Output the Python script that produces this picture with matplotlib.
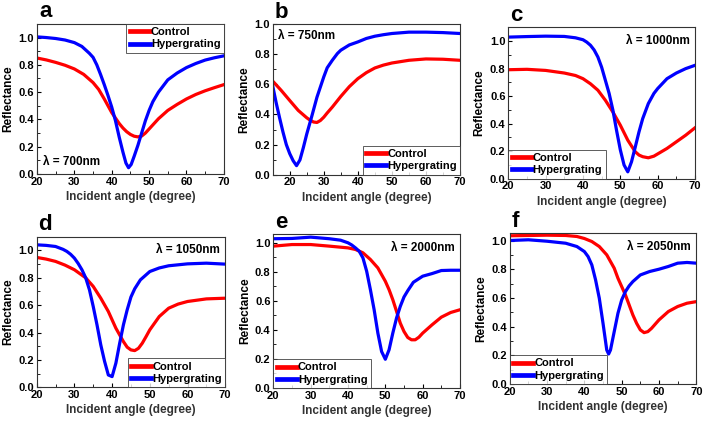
import matplotlib
matplotlib.use("Agg")
import matplotlib.pyplot as plt
from matplotlib.ticker import MultipleLocator

plt.rcParams["font.family"] = ["Liberation Sans", "DejaVu Sans"]
plt.rcParams["font.weight"] = "bold"

RED = "#FF0000"
BLUE = "#0000FF"

# ── Data ───────────────────────────────────────────────────────────────────
# a  λ = 700nm
a_ctrl_x = [20, 22.5, 25, 27.5, 30, 32.5, 35, 36.5, 38, 39, 40, 41, 42, 43, 44, 45,
            46, 47, 48, 49, 50, 52.5, 55, 57.5, 60, 62.5, 65, 67.5, 70]
a_ctrl_y = [0.85, 0.836, 0.818, 0.797, 0.77, 0.73, 0.67, 0.62, 0.55, 0.50, 0.45,
            0.41, 0.37, 0.337, 0.31, 0.29, 0.277, 0.272, 0.278, 0.30, 0.33, 0.405,
            0.466, 0.51, 0.55, 0.583, 0.61, 0.633, 0.655]
a_hyp_x = [20, 22.5, 25, 27.5, 30, 32, 34, 35, 36, 37, 38, 39, 40, 41, 42, 43, 43.8,
           44.5, 45.2, 46, 47, 48, 49, 50, 51, 52.5, 55, 57.5, 60, 62.5, 65, 67.5, 70]
a_hyp_y = [1.005, 1.0, 0.993, 0.982, 0.963, 0.935, 0.885, 0.855, 0.80, 0.73, 0.655,
           0.575, 0.49, 0.39, 0.27, 0.16, 0.08, 0.046, 0.07, 0.13, 0.21, 0.30, 0.39,
           0.466, 0.53, 0.60, 0.69, 0.74, 0.78, 0.81, 0.835, 0.852, 0.866]

# b  λ = 750nm
b_ctrl_x = [15, 17.5, 20, 22.5, 25, 26, 27, 28, 29, 30, 31, 32.5, 35, 37.5, 40, 42.5,
            45, 47.5, 50, 55, 60, 65, 70]
b_ctrl_y = [0.622, 0.56, 0.493, 0.427, 0.378, 0.362, 0.35, 0.347, 0.36, 0.382, 0.41,
            0.449, 0.52, 0.585, 0.638, 0.678, 0.709, 0.728, 0.742, 0.76, 0.769,
            0.767, 0.76]
b_hyp_x = [15, 16, 17, 18, 19, 20, 21, 22, 23, 24, 25, 26.5, 28, 30, 31, 32.5, 34,
           35, 37.5, 40, 42.5, 45, 47.5, 50, 55, 60, 65, 70]
b_hyp_y = [0.59, 0.48, 0.38, 0.285, 0.20, 0.14, 0.093, 0.06, 0.098, 0.18, 0.27, 0.39,
           0.515, 0.65, 0.71, 0.76, 0.805, 0.827, 0.862, 0.882, 0.905, 0.92, 0.93,
           0.938, 0.947, 0.947, 0.944, 0.938]

# c  λ = 1000nm
c_ctrl_x = [20, 25, 30, 35, 38, 40, 42, 44, 46, 48, 50, 52, 54, 55, 56, 57.5, 59, 60,
            62.5, 65, 67.5, 70]
c_ctrl_y = [0.792, 0.795, 0.787, 0.768, 0.75, 0.727, 0.69, 0.643, 0.57, 0.485,
            0.389, 0.28, 0.196, 0.172, 0.16, 0.152, 0.164, 0.18, 0.22, 0.268,
            0.316, 0.37]
c_hyp_x = [20, 25, 30, 35, 38, 40, 41, 42, 43, 44, 45, 46, 47, 48, 49, 50, 51, 52,
           53, 54, 55, 56, 57.5, 59, 60, 62.5, 65, 67.5, 70]
c_hyp_y = [1.029, 1.033, 1.036, 1.034, 1.024, 1.01, 0.993, 0.97, 0.935, 0.884, 0.81,
           0.715, 0.62, 0.50, 0.35, 0.21, 0.10, 0.05, 0.123, 0.23, 0.34, 0.437,
           0.546, 0.62, 0.655, 0.727, 0.768, 0.80, 0.824]

# d  λ = 1050nm
d_ctrl_x = [20, 22.5, 25, 27.5, 30, 33, 35, 37, 39, 41, 42, 43, 44, 45, 46, 47, 48,
            49, 50, 52.5, 55, 57.5, 60, 65, 70]
d_ctrl_y = [0.949, 0.937, 0.92, 0.893, 0.859, 0.80, 0.737, 0.651, 0.554, 0.432,
            0.383, 0.334, 0.293, 0.273, 0.268, 0.285, 0.322, 0.37, 0.42, 0.517,
            0.578, 0.608, 0.627, 0.646, 0.651]
d_hyp_x = [20, 22.5, 25, 27, 28, 29, 30, 31, 32, 33, 34, 35, 36, 37, 38, 39, 40, 41,
           42, 43, 44, 45, 46, 47.5, 50, 52.5, 55, 60, 65, 70]
d_hyp_y = [1.041, 1.037, 1.029, 1.008, 0.993, 0.972, 0.944, 0.905, 0.859, 0.80,
           0.712, 0.59, 0.456, 0.31, 0.19, 0.09, 0.078, 0.176, 0.32, 0.456, 0.566,
           0.66, 0.72, 0.785, 0.846, 0.872, 0.888, 0.902, 0.907, 0.90]

# e  λ = 2000nm
e_ctrl_x = [20, 25, 30, 35, 40, 42, 44, 46, 48, 50, 51, 52, 53, 54, 55, 56, 57, 58,
            59, 60, 62.5, 65, 67.5, 70]
e_ctrl_y = [0.977, 0.988, 0.988, 0.977, 0.965, 0.954, 0.931, 0.885, 0.827, 0.735,
            0.677, 0.608, 0.528, 0.447, 0.389, 0.348, 0.332, 0.332, 0.35, 0.378,
            0.435, 0.488, 0.52, 0.539]
e_hyp_x = [20, 25, 30, 35, 38, 40, 41, 42, 43, 44, 45, 46, 47, 48, 49, 50, 51, 52,
           53, 54, 55, 56, 57.5, 60, 62.5, 65, 67.5, 70]
e_hyp_y = [1.028, 1.03, 1.039, 1.028, 1.018, 1.0, 0.985, 0.965, 0.942, 0.896, 0.804,
           0.677, 0.539, 0.378, 0.251, 0.198, 0.263, 0.378, 0.482, 0.562, 0.627,
           0.67, 0.728, 0.77, 0.788, 0.809, 0.811, 0.811]

# f  λ = 2050nm
f_ctrl_x = [20, 25, 30, 35, 38, 40, 42, 44, 46, 48, 49, 50, 51, 52, 53, 54, 55, 56,
            57, 58, 60, 62.5, 65, 67.5, 70]
f_ctrl_y = [1.033, 1.035, 1.037, 1.035, 1.028, 1.014, 0.993, 0.958, 0.90, 0.807,
            0.737, 0.679, 0.621, 0.551, 0.481, 0.423, 0.377, 0.358, 0.365, 0.388,
            0.447, 0.505, 0.54, 0.563, 0.574]
f_hyp_x = [20, 25, 30, 35, 38, 40, 41, 42, 43, 44, 45, 46, 46.5, 47, 48, 49, 50, 51,
           52, 53, 55, 57.5, 60, 62.5, 65, 67.5, 70]
f_hyp_y = [1.0, 1.005, 0.995, 0.981, 0.958, 0.923, 0.888, 0.83, 0.726, 0.598, 0.423,
           0.237, 0.209, 0.237, 0.365, 0.493, 0.586, 0.644, 0.684, 0.714, 0.76,
           0.784, 0.80, 0.819, 0.842, 0.847, 0.842]

# ── Panel layout: letter, wavelength, x-range, y-top, legend spot, label spot ──
PANELS = [
    ("a", "700nm",  (20, 70), 1.1,  "upper right", "lower left",
     (a_ctrl_x, a_ctrl_y), (a_hyp_x, a_hyp_y), [0.0525, 0.5896, 0.265, 0.354]),
    ("b", "750nm",  (15, 70), 1.0,  "lower right", "upper left",
     (b_ctrl_x, b_ctrl_y), (b_hyp_x, b_hyp_y), [0.3868, 0.588, 0.2657, 0.355]),
    ("c", "1000nm", (20, 70), 1.1,  "lower left",  "upper right",
     (c_ctrl_x, c_ctrl_y), (c_hyp_x, c_hyp_y), [0.721, 0.5785, 0.2648, 0.357]),
    ("d", "1050nm", (20, 70), 1.1,  "lower right", "upper right",
     (d_ctrl_x, d_ctrl_y), (d_hyp_x, d_hyp_y), [0.052, 0.0866, 0.2675, 0.355]),
    ("e", "2000nm", (20, 70), 1.06, "lower left",  "upper right",
     (e_ctrl_x, e_ctrl_y), (e_hyp_x, e_hyp_y), [0.3877, 0.0849, 0.2648, 0.363]),
    ("f", "2050nm", (20, 70), 1.05, "lower left",  "upper right",
     (f_ctrl_x, f_ctrl_y), (f_hyp_x, f_hyp_y), [0.723, 0.0943, 0.2647, 0.3554]),
]

fig = plt.figure(figsize=(7.05, 4.24), dpi=100)

for letter, wl, xr, ytop, leg_loc, lab_loc, ctrl, hyp, rect in PANELS:
    ax = fig.add_axes(rect)
    ax.plot(ctrl[0], ctrl[1], color=RED, lw=2.3, label="Control",
            solid_joinstyle="round")
    ax.plot(hyp[0], hyp[1], color=BLUE, lw=2.3, label="Hypergrating",
            solid_joinstyle="round")
    ax.set_xlim(*xr)
    ax.set_ylim(0, ytop)
    ax.xaxis.set_major_locator(MultipleLocator(10))
    ax.xaxis.set_minor_locator(MultipleLocator(5))
    ax.yaxis.set_major_locator(MultipleLocator(0.2))
    ax.yaxis.set_minor_locator(MultipleLocator(0.1))
    ax.tick_params(which="both", direction="in", labelsize=8, pad=2)
    ax.tick_params(which="major", length=3, width=0.8)
    ax.tick_params(which="minor", length=2, width=0.6)
    for sp in ax.spines.values():
        sp.set_color("#333333")
        sp.set_linewidth(0.8)
    ax.set_xlabel("Incident angle (degree)", fontsize=8.5, fontweight="bold",
                  color="#333333", labelpad=3)
    ax.set_ylabel("Reflectance", fontsize=8.5, fontweight="bold", labelpad=3)

    leg = ax.legend(loc=leg_loc, borderaxespad=0, fancybox=False,
                    handlelength=1.8, handletextpad=0.1, borderpad=0.3,
                    labelspacing=0.2, prop={"size": 8, "weight": "bold"})
    leg.get_frame().set_edgecolor("#333333")
    leg.get_frame().set_linewidth(0.7)
    for h in leg.get_lines():
        h.set_linewidth(3.4)

    if lab_loc == "lower left":
        tx, ty, ha, va = 0.03, 0.04, "left", "bottom"
    elif lab_loc == "upper left":
        tx, ty, ha, va = 0.03, 0.96, "left", "top"
    else:
        tx, ty, ha, va = 0.97, 0.95, "right", "top"
    ax.text(tx, ty, "\u03bb = " + wl, transform=ax.transAxes, ha=ha, va=va,
            fontsize=8.5, fontweight="bold")

    ax.text(0.01, 1.01, letter, transform=ax.transAxes, ha="left", va="bottom",
            fontsize=16, fontweight="bold")

fig.savefig("out.png", dpi=100)
